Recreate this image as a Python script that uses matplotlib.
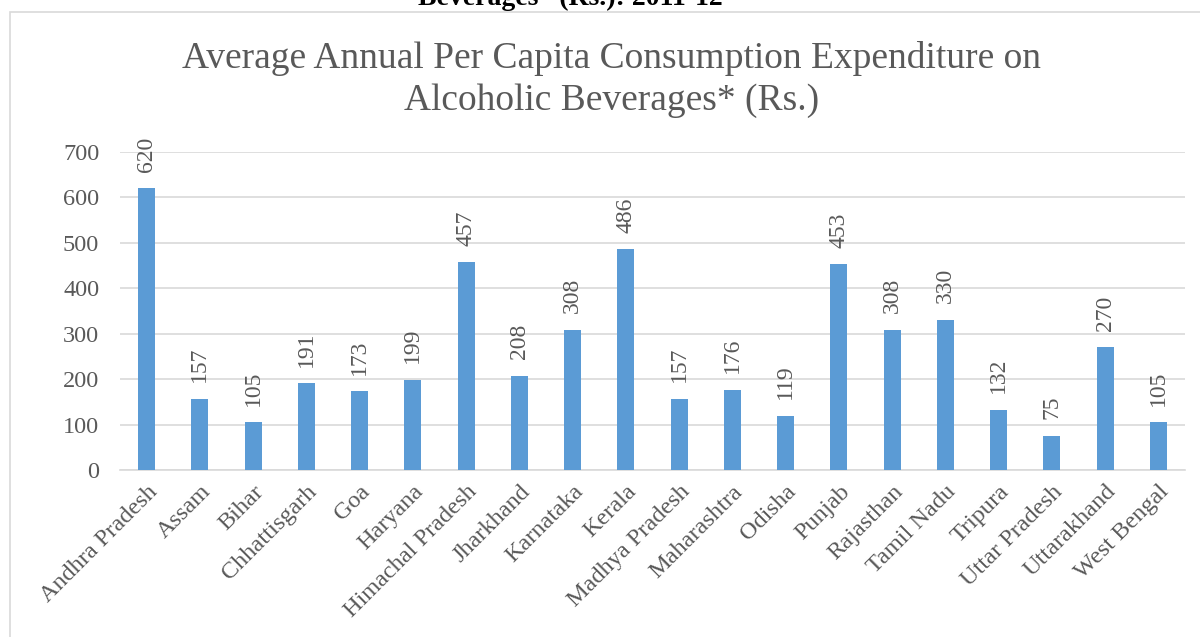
import matplotlib.pyplot as plt
from matplotlib.patches import Rectangle

states = ["Andhra Pradesh", "Assam", "Bihar", "Chhattisgarh", "Goa", "Haryana",
          "Himachal Pradesh", "Jharkhand", "Karnataka", "Kerala", "Madhya Pradesh",
          "Maharashtra", "Odisha", "Punjab", "Rajasthan", "Tamil Nadu", "Tripura",
          "Uttar Pradesh", "Uttarakhand", "West Bengal"]
expenditure = [620, 157, 105, 191, 173, 199, 457, 208, 308, 486, 157,
               176, 119, 453, 308, 330, 132, 75, 270, 105]
yticks = [0, 100, 200, 300, 400, 500, 600, 700]
title_lines = ["Average Annual Per Capita Consumption Expenditure on",
               "Alcoholic Beverages* (Rs.)"]

plt.rcParams['font.family'] = ['Liberation Serif', 'DejaVu Serif']
grey = "#595959"

fig = plt.figure(figsize=(12, 6.37), dpi=100)
ax = fig.add_axes([120 / 1200, 1 - 470 / 637, 1065 / 1200, 318 / 637])

# chart frame, running off the right and bottom edges
fig.patches.append(Rectangle((10 / 1200, -0.1), 1.2, 1 - 12 / 637 + 0.1,
                             transform=fig.transFigure, fill=False,
                             edgecolor="#d9d9d9", linewidth=1.2))

# caption from the page above, cut off by the top edge
fig.text(570 / 1200, 1 - 5 / 637, "Beverages* (Rs.): 2011-12", ha="center",
         va="baseline", fontsize=20, fontweight="bold", color="black")

x = range(len(states))
ax.bar(x, expenditure, width=0.32, color="#5b9bd5", zorder=3)
for xi, v in zip(x, expenditure):
    ax.annotate(str(v), (xi, v), xytext=(0, 12), textcoords="offset points",
                rotation=90, ha="center", va="bottom", fontsize=17, color=grey)

ax.set_xlim(-0.5, len(states) - 0.5)
ax.set_ylim(0, 700)
ax.set_yticks(yticks)
ax.set_xticks(list(x))
ax.set_xticklabels(states, rotation=45, ha="right", rotation_mode="anchor",
                   fontsize=17.5, color=grey)
ax.tick_params(axis="y", labelsize=17.5, labelcolor=grey, length=0, pad=15)
ax.tick_params(axis="x", length=0, pad=8)
ax.grid(axis="y", color="#d9d9d9", linewidth=1.2, zorder=0)
for s in ["top", "right", "left"]:
    ax.spines[s].set_visible(False)
ax.spines["bottom"].set_color("#d9d9d9")
ax.spines["bottom"].set_linewidth(1.2)

for line, base in zip(title_lines, [68, 110]):
    fig.text(612 / 1200, 1 - base / 637, line, ha="center", va="baseline",
             fontsize=27, color=grey)

fig.savefig("out.png", dpi=100)
